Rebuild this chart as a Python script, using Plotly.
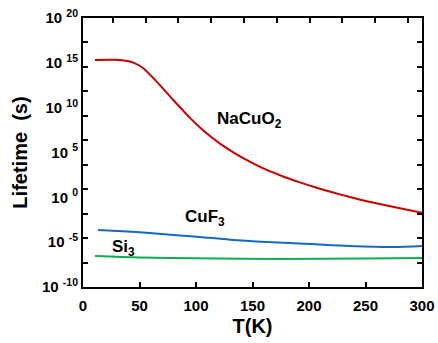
import math
import plotly.graph_objects as go

# Data (T in K, lifetime in seconds)
T_nacuo2 = [10.6, 32.7, 44.5, 53.4, 65.2, 79.9, 94.7, 103.5, 112.4, 121.2, 132.7, 143.4, 161.1, 178.8, 192.0, 206.8, 221.5, 236.3, 251.1, 265.7, 280.5, 300]
L_nacuo2 = [2.09e15, 2.09e15, 1.05e15, 2.45e14, 7.9e12, 7.2e10, 7.2e8, 6.2e7, 6.8e6, 9.8e5, 1.1e5, 1.82e4, 1.38e3, 1.74e2, 46, 11.7, 3.4, 1.07, 0.37, 0.145, 0.060, 0.0186]

T_cuf3 = [13.3, 35, 59, 80, 103.5, 130, 163, 201, 236, 275, 300]
L_cuf3 = [2.3e-4, 1.6e-4, 1.07e-4, 6.5e-5, 3.8e-5, 1.9e-5, 1.05e-5, 6.3e-6, 3.8e-6, 2.95e-6, 3.8e-6]

T_si3 = [10.6, 50, 100, 175, 250, 300]
L_si3 = [2.9e-7, 2.0e-7, 1.6e-7, 1.35e-7, 1.5e-7, 1.75e-7]

x_ticks = [0, 50, 100, 150, 200, 250, 300]
y_exps = [-10, -5, 0, 5, 10, 15, 20]
y_tick_vals = [10.0 ** e for e in y_exps]
y_tick_text = ["<b>10 <sup>%d</sup></b>" % e for e in y_exps]
y_minor_vals = [10.0 ** (-10 + k * 30 / 11) for k in range(1, 11)]
x_top_ticks = [26.5 + 29 * k for k in range(10)]

# curve labels: (text, T, lifetime)
labels = [("<b>NaCuO<sub>2</sub></b>", 116.5, 4e8), ("<b>CuF<sub>3</sub></b>", 88.5, 5e-3), ("<b>Si<sub>3</sub></b>", 23.9, 2.5e-6)]

font = dict(family="Liberation Sans, Arial, sans-serif", color="black", weight="bold")

fig = go.Figure()
fig.add_trace(go.Scatter(x=T_nacuo2, y=L_nacuo2, mode="lines", line=dict(color="#c80000", width=2, shape="spline", smoothing=0.6), showlegend=False))
fig.add_trace(go.Scatter(x=T_cuf3, y=L_cuf3, mode="lines", line=dict(color="#1469c4", width=2, shape="spline", smoothing=0.8), showlegend=False))
fig.add_trace(go.Scatter(x=T_si3, y=L_si3, mode="lines", line=dict(color="#14aa50", width=2, shape="spline", smoothing=0.8), showlegend=False))
# invisible trace to carry the top tick axis
fig.add_trace(go.Scatter(x=T_si3, y=L_si3, xaxis="x2", mode="lines", line=dict(width=0), opacity=0, hoverinfo="skip", showlegend=False))

for txt, x, y in labels:
    fig.add_annotation(x=x, y=math.log10(y), xref="x", yref="y", text=txt, showarrow=False,
                       xanchor="left", yanchor="middle", font=dict(size=17, **font))

fig.update_layout(
    width=438, height=343,
    margin=dict(l=83, r=16, t=18, b=56),
    paper_bgcolor="white", plot_bgcolor="white",
    xaxis=dict(range=[0, 300], tickvals=x_ticks, ticktext=["<b>%d</b>" % v for v in x_ticks],
               ticks="inside", ticklen=5, tickwidth=1.5, ticklabelstandoff=4, automargin=False,
               tickcolor="black", showline=True, linecolor="black", linewidth=2, mirror=True,
               showgrid=False, zeroline=False, tickfont=dict(size=15, **font),
               title=dict(text="<b>T(K)</b>", font=dict(size=20, **font), standoff=6)),
    xaxis2=dict(range=[0, 300], overlaying="x", side="top", tickvals=x_top_ticks, ticks="inside",
                ticklen=5, tickwidth=1.5, tickcolor="black", showticklabels=False, automargin=False,
                showgrid=False, zeroline=False, showline=False),
    yaxis=dict(type="log", range=[-10, 20], tickvals=y_tick_vals, ticktext=y_tick_text, automargin=False,
               ticks="inside", ticklen=0, showline=True, linecolor="black", linewidth=2,
               mirror="ticks", showgrid=False, zeroline=False, tickfont=dict(size=15, **font),
               minor=dict(tickvals=y_minor_vals, ticks="inside", ticklen=5, tickwidth=1.5, tickcolor="black"),
               title=dict(text="<b>Lifetime  (s)</b>", font=dict(size=20, **font), standoff=9)),
)

fig.write_html("out.html")
